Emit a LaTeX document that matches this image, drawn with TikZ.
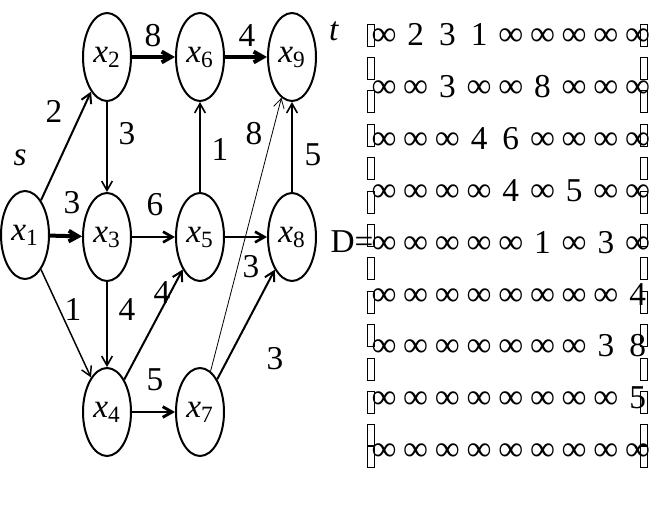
\documentclass[tikz,border=0pt]{standalone}
\usepackage{fontspec}
\usepackage{graphicx}
\setmainfont{Liberation Serif}
\usetikzlibrary{arrows.meta, shapes.geometric}

\newcommand{\infsym}{\scalebox{1.05}{∞}}

\tikzset{
  vertex/.style={ellipse, draw, line width=1.5pt, minimum width=36pt, minimum height=66pt, inner sep=0pt},
  arc/.style={-{Straight Barb[length=7pt,width=8pt]}, line width=1.2pt},
  heavy/.style={arc, line width=3pt},
  medium/.style={arc, line width=2pt},
  fine/.style={arc, line width=0.6pt},
  weight/.style={inner sep=0pt},
  entry/.style={anchor=base, inner sep=0pt},
  piece/.style={line width=0.6pt}
}

\begin{document}
\begin{tikzpicture}[x=0.75pt, y=-0.75pt, every node/.style={font=\fontsize{25}{30}\selectfont}]
\useasboundingbox (0,0) rectangle (660,528);

% Vertices
\node[vertex] (x1) at (25,235) {\textit{x}\textsubscript{1}};
\node[vertex] (x2) at (107,57) {\textit{x}\textsubscript{2}};
\node[vertex] (x3) at (107,237) {\textit{x}\textsubscript{3}};
\node[vertex] (x4) at (107,412) {\textit{x}\textsubscript{4}};
\node[vertex] (x5) at (200,237) {\textit{x}\textsubscript{5}};
\node[vertex] (x6) at (200,57) {\textit{x}\textsubscript{6}};
\node[vertex] (x7) at (200,412) {\textit{x}\textsubscript{7}};
\node[vertex] (x8) at (292,237) {\textit{x}\textsubscript{8}};
\node[vertex] (x9) at (292,57) {\textit{x}\textsubscript{9}};

\node[weight] (src) at (20,158) {\textit{s}};
\node[weight] (snk) at (334,31) {\textit{t}};

% Edges
\draw[arc,line width=1.5pt] (x1) -- (x2);
\draw[heavy] (x1) -- (x3);
\draw[arc,line width=1.1pt] (x1) -- (x4);
\draw[arc] (x2) -- (x3);
\draw[heavy] (x2) -- (x6);
\draw[medium] (x3) -- (x5);
\draw[arc] (x3) -- (x4);
\draw[arc,line width=1.5pt] (x4) -- (x5);
\draw[arc,line width=2.2pt] (x4) -- (x7);
\draw[arc] (x5) -- (x6);
\draw[medium] (x5) -- (x8);
\draw[heavy] (x6) -- (x9);
\draw[fine] (x7) -- (x9);
\draw[arc,line width=1.5pt] (x7) -- (x8);
\draw[arc] (x8) -- (x9);

% Weights
\node[weight] (w12) at (54,111) {2};
\node[weight] (w13) at (72,203) {3};
\node[weight] (w14) at (73,309) {1};
\node[weight] (w23) at (127,134) {3};
\node[weight] (w26) at (153,36) {8};
\node[weight] (w35) at (155,205) {6};
\node[weight] (w34) at (127,310) {4};
\node[weight] (w45) at (162,293) {4};
\node[weight] (w47) at (155,380) {5};
\node[weight] (w56) at (220,149) {1};
\node[weight] (w58) at (251,267) {3};
\node[weight] (w69) at (247,36) {4};
\node[weight] (w79) at (254,134) {8};
\node[weight] (w78) at (275,359) {3};
\node[weight] (w89) at (313,155) {5};

% Matrix D
\node[entry] (D) at (352,252) {D=};
\foreach \entries [count=\i from 0] in {
  {\infsym,2,3,1,\infsym,\infsym,\infsym,\infsym,\infsym},
  {\infsym,\infsym,3,\infsym,\infsym,8,\infsym,\infsym,\infsym},
  {\infsym,\infsym,\infsym,4,6,\infsym,\infsym,\infsym,\infsym},
  {\infsym,\infsym,\infsym,\infsym,4,\infsym,5,\infsym,\infsym},
  {\infsym,\infsym,\infsym,\infsym,\infsym,1,\infsym,3,\infsym},
  {\infsym,\infsym,\infsym,\infsym,\infsym,\infsym,\infsym,\infsym,4},
  {\infsym,\infsym,\infsym,\infsym,\infsym,\infsym,\infsym,3,8},
  {\infsym,\infsym,\infsym,\infsym,\infsym,\infsym,\infsym,\infsym,5},
  {\infsym,\infsym,\infsym,\infsym,\infsym,\infsym,\infsym,\infsym,\infsym}}{
  \foreach \e [count=\j from 0] in \entries
    \node[entry] (m\i\j) at (384+31.7*\j, 46+51.8*\i) {\e};
}

% bracket pieces
\foreach \k in {0,...,12} {
  \draw[piece] (367,24+33.4*\k) rectangle (374,46+33.4*\k);
  \draw[piece] (640,24+33.4*\k) rectangle (647,46+33.4*\k);
}
\draw[piece] (367,445) rectangle (374,467);
\draw[piece] (640,445) rectangle (647,467);
\end{tikzpicture}
\end{document}
